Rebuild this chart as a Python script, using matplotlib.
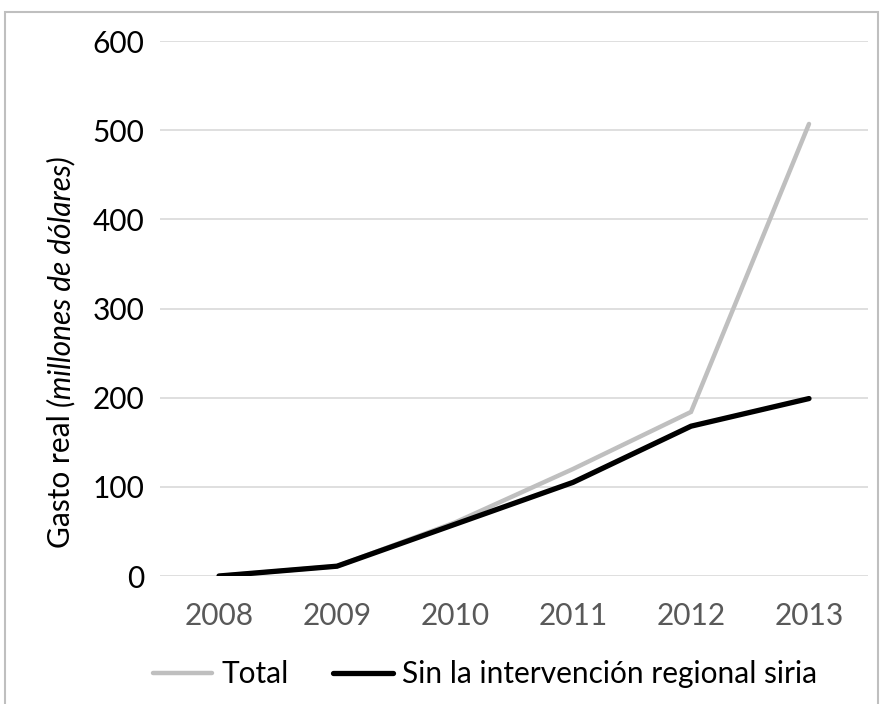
import matplotlib
matplotlib.use("Agg")
import matplotlib.pyplot as plt
from matplotlib.patches import Rectangle

years = ["2008", "2009", "2010", "2011", "2012", "2013"]
total = [0, 11, 60, 120, 184, 507]
sin_siria = [0, 11, 58, 105, 168, 199]
series_labels = ["Total", "Sin la intervención regional siria"]
yticks = [0, 100, 200, 300, 400, 500, 600]

plt.rcParams['font.family'] = ['Lato', 'DejaVu Sans']
FS = 21.5

W, H = 881, 704
fig = plt.figure(figsize=(W / 100, H / 100), dpi=100)
ax = fig.add_axes([160 / W, 1 - 576 / H, (868 - 160) / W, (576 - 41) / H])

x = list(range(len(years)))
ax.plot(x, total, color="#bfbfbf", lw=3.2, label=series_labels[0], solid_capstyle="round", solid_joinstyle="miter")
ax.plot(x, sin_siria, color="#000000", lw=3.8, label=series_labels[1], solid_capstyle="round", solid_joinstyle="miter")

ax.set_xlim(-0.5, len(years) - 0.5)
ax.set_ylim(0, 600)
ax.set_yticks(yticks)
ax.set_yticklabels([str(v) for v in yticks], fontsize=FS, color="black")
ax.set_xticks(x)
ax.set_xticklabels(years, fontsize=FS, color="#595959")
ax.tick_params(axis="both", length=0)
ax.tick_params(axis="y", pad=11)
ax.tick_params(axis="x", pad=19)
ax.grid(axis="y", color="#d9d9d9", lw=1.2)
ax.set_axisbelow(True)
for s in ax.spines.values():
    s.set_visible(False)

# y label: normal part + italic part
xl = 70 / W
t1 = fig.text(xl, 1 - 548 / H, "Gasto real ", rotation=90, fontsize=FS,
              ha="left", va="baseline", rotation_mode="anchor")
fig.canvas.draw()
bb = t1.get_window_extent()
fig.text(xl, bb.y1 / H, "(millones de dólares)", rotation=90, fontsize=FS,
         style="italic", ha="left", va="baseline", rotation_mode="anchor")

leg = fig.legend(loc="center", bbox_to_anchor=(485 / W, 1 - 674 / H), ncol=2,
                 frameon=False, fontsize=FS, handlelength=2.0, handletextpad=0.3,
                 columnspacing=1.5)

fig.add_artist(Rectangle((5 / W, -0.01), (W - 3 - 5) / W, (H - 12) / H + 0.01,
                         transform=fig.transFigure, fill=False, ec="#bfbfbf", lw=1.5))

fig.savefig("out.png", dpi=100)
